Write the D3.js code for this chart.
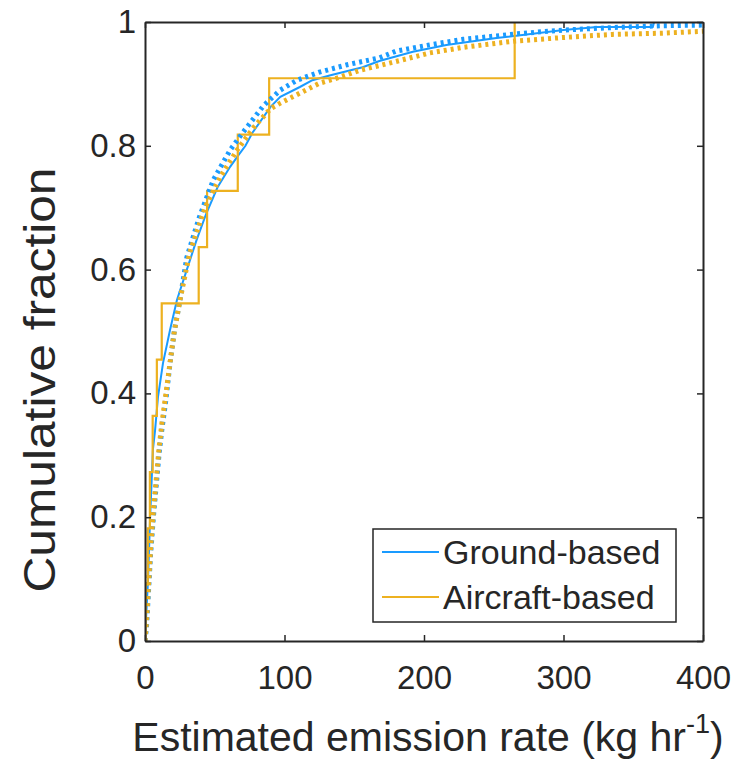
<!DOCTYPE html>
<html>
  <head>
    <meta charset="utf-8">
    <title>Cumulative emission rates</title>
    <script src="https://d3js.org/d3.v7.min.js"></script>
    <style>
      body { margin: 0; background: #fff; }
      text { font-family: "Liberation Sans", Arial, Helvetica, sans-serif; fill: #262626; }
    </style>
  </head>
  <body>
    <div id="chart"></div>
    <script>
    // Ground-based survey, empirical CDF
    var groundX = [0, 0.7, 2.2, 3.6, 5.7, 7.2, 9.3, 12.9, 17.9, 22.9, 30, 37, 44, 52, 61, 67, 72, 77, 90, 97, 111, 120, 133, 156, 168, 192, 216, 252, 300, 324, 364, 365, 400];
    var groundY = [0, 0.034, 0.1, 0.195, 0.31, 0.34, 0.394, 0.449, 0.502, 0.551, 0.6, 0.648, 0.691, 0.733, 0.766, 0.785, 0.8, 0.821, 0.863, 0.879, 0.895, 0.906, 0.914, 0.927, 0.937, 0.952, 0.963, 0.974, 0.987, 0.992, 0.992, 1, 1];

    // Aircraft-based sources (11 plumes), sorted emission rates
    var aircraftRates = [0.5, 2, 3.5, 5.5, 8.5, 12, 38.5, 44.5, 66.5, 89, 265];

    // fitted distributions (dotted)
    var groundFitX = [0, 1, 2, 4, 6, 8, 10, 12, 15, 18, 21, 25, 30, 39, 49, 61, 70, 85, 97, 109, 125, 145, 168, 180, 204, 228, 267, 300, 335, 371, 400];
    var groundFitY = [0, 0.02, 0.06, 0.14, 0.2, 0.25, 0.3, 0.34, 0.39, 0.45, 0.5, 0.55, 0.62, 0.685, 0.745, 0.793, 0.821, 0.865, 0.89, 0.906, 0.919, 0.931, 0.942, 0.953, 0.963, 0.972, 0.981, 0.987, 0.991, 0.994, 0.995];
    var aircraftFitX = [0, 1, 2, 4, 6, 8, 10, 12, 15, 18, 21, 25, 32, 43, 54, 66, 78, 90, 97, 111, 125, 140, 154, 176, 204, 228, 264, 300, 335, 371, 400];
    var aircraftFitY = [0, 0.03, 0.07, 0.15, 0.21, 0.26, 0.31, 0.35, 0.4, 0.45, 0.5, 0.55, 0.627, 0.7, 0.75, 0.793, 0.83, 0.86, 0.869, 0.885, 0.901, 0.911, 0.922, 0.934, 0.95, 0.959, 0.969, 0.975, 0.98, 0.982, 0.985];

    var xTicks = [0, 100, 200, 300, 400];
    var yTicks = [0, 0.2, 0.4, 0.6, 0.8, 1];
    var seriesNames = ["Ground-based", "Aircraft-based"];

    var blue = "#1a9bff", orange = "#edb120", ink = "#262626";

    var W = 740, H = 762;
    var margin = {top: 22, right: 37, bottom: 121, left: 145},
      width = W - margin.left - margin.right,
      height = H - margin.top - margin.bottom;

    var svg = d3.select("#chart").append("svg")
      .attr("width", W)
      .attr("height", H);

    var g = svg.append("g")
      .attr("transform", "translate(" + margin.left + "," + margin.top + ")");

    var x = d3.scaleLinear().domain([0, 400]).range([0, width]);
    var y = d3.scaleLinear().domain([0, 1]).range([height, 0]);

    g.append("clipPath").attr("id", "plotclip")
      .append("rect").attr("width", width).attr("height", height);

    var zip = (xs, ys) => xs.map((v, i) => [v, ys[i]]);

    // step function for the aircraft ECDF: level i/n holds from rate i to rate i+1
    var n = aircraftRates.length;
    var aircraftSteps = [[0, 0]].concat(aircraftRates.map((v, i) => [v, (i + 1) / n]), [[400, 1]]);

    var line = d3.line().x(d => x(d[0])).y(d => y(d[1]));
    var stepLine = d3.line().x(d => x(d[0])).y(d => y(d[1])).curve(d3.curveStepAfter);

    var plot = g.append("g").attr("clip-path", "url(#plotclip)");

    plot.append("path").datum(zip(groundX, groundY))
      .attr("d", line).attr("fill", "none")
      .attr("stroke", blue).attr("stroke-width", 2);

    plot.append("path").datum(aircraftSteps)
      .attr("d", stepLine).attr("fill", "none")
      .attr("stroke", orange).attr("stroke-width", 2.2);

    plot.append("path").datum(zip(groundFitX, groundFitY))
      .attr("d", line).attr("fill", "none")
      .attr("stroke", blue).attr("stroke-width", 5)
      .attr("stroke-dasharray", "3,4");

    plot.append("path").datum(zip(aircraftFitX, aircraftFitY))
      .attr("d", line).attr("fill", "none")
      .attr("stroke", orange).attr("stroke-width", 5)
      .attr("stroke-dasharray", "3,4");

    // axes box with inward ticks on all four sides
    var tickLen = 6;
    var fmtY = d => d === 0 || d === 1 ? String(d) : d.toFixed(1);

    g.append("g").attr("transform", "translate(0," + height + ")")
      .call(d3.axisBottom(x).tickValues(xTicks).tickSizeInner(-tickLen).tickSizeOuter(0).tickPadding(25));
    g.append("g")
      .call(d3.axisTop(x).tickValues(xTicks).tickSizeInner(-tickLen).tickSizeOuter(0).tickFormat(""));
    g.append("g")
      .call(d3.axisLeft(y).tickValues(yTicks).tickSizeInner(-tickLen).tickSizeOuter(0).tickPadding(9).tickFormat(fmtY));
    g.append("g").attr("transform", "translate(" + width + ",0)")
      .call(d3.axisRight(y).tickValues(yTicks).tickSizeInner(-tickLen).tickSizeOuter(0).tickFormat(""));

    g.selectAll(".domain").attr("stroke", ink).attr("stroke-width", 2);
    g.selectAll(".tick line").attr("stroke", ink).attr("stroke-width", 1.5);
    g.selectAll(".tick text")
      .style("font-family", "'Liberation Sans', Arial, sans-serif")
      .style("font-size", "33px").attr("fill", ink);

    // axis labels
    var xl = svg.append("text")
      .attr("x", 428)
      .attr("y", 751)
      .attr("text-anchor", "middle")
      .style("font-size", "41px");
    xl.append("tspan").text("Estimated emission rate (kg hr");
    xl.append("tspan").attr("dy", -18).style("font-size", "27px").text("-1");
    xl.append("tspan").attr("dy", 18).text(")");

    svg.append("text")
      .attr("transform", "translate(55,380) rotate(-90)")
      .attr("text-anchor", "middle")
      .attr("textLength", 425)
      .attr("lengthAdjust", "spacingAndGlyphs")
      .style("font-size", "44px")
      .text("Cumulative fraction");

    // legend
    var lg = g.append("g").attr("transform", "translate(" + (373 - margin.left) + "," + (529 - margin.top) + ")");
    lg.append("rect").attr("width", 303).attr("height", 93)
      .attr("fill", "#fff").attr("stroke", ink).attr("stroke-width", 1.5);
    [blue, orange].forEach((c, i) => {
      var ly = 23 + i * 45;
      lg.append("line").attr("x1", 9).attr("x2", 66).attr("y1", ly).attr("y2", ly)
        .attr("stroke", c).attr("stroke-width", 2);
      lg.append("text").attr("x", 70).attr("y", ly + 12)
        .style("font-size", "34px").text(seriesNames[i]);
    });
    </script>
  </body>
</html>
